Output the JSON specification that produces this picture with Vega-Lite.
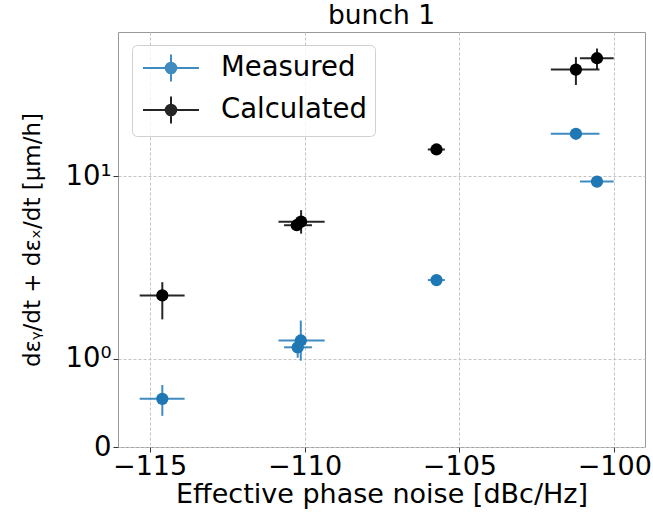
{
  "$schema": "https://vega.github.io/schema/vega-lite/v6.json",
  "width": 527,
  "height": 415,
  "autosize": {"type": "none"},
  "padding": {"left": 118, "top": 32, "right": 8, "bottom": 68},
  "title": {"text": "bunch 1", "fontSize": 26.5, "font": "DejaVu Sans", "fontWeight": "normal", "color": "black", "offset": 3},
  "config": {"view": {"stroke": "#999", "strokeWidth": 1}, "font": "DejaVu Sans"},
  "data": {"values": [
    {"series": "Measured", "x": -114.59, "xlo": -115.32, "xhi": -113.87, "y": 0.437, "ylo": 0.258, "yhi": 0.607},
    {"series": "Measured", "x": -110.12, "xlo": -110.84, "xhi": -109.35, "y": 1.346, "ylo": 0.97, "yhi": 1.8},
    {"series": "Measured", "x": -110.22, "xlo": -110.66, "xhi": -109.76, "y": 1.21, "ylo": 1.02, "yhi": 1.38},
    {"series": "Measured", "x": -105.74, "xlo": -106.02, "xhi": -105.47, "y": 3.06, "ylo": 2.95, "yhi": 3.17},
    {"series": "Measured", "x": -101.24, "xlo": -102.05, "xhi": -100.48, "y": 15.7, "ylo": 15.2, "yhi": 16.2},
    {"series": "Measured", "x": -100.56, "xlo": -101.11, "xhi": -100.02, "y": 9.43, "ylo": 9.1, "yhi": 9.8},
    {"series": "Calculated", "x": -114.59, "xlo": -115.32, "xhi": -113.87, "y": 2.52, "ylo": 1.83, "yhi": 2.98},
    {"series": "Calculated", "x": -110.11, "xlo": -110.84, "xhi": -109.35, "y": 6.07, "ylo": 5.3, "yhi": 6.9},
    {"series": "Calculated", "x": -110.25, "xlo": -110.66, "xhi": -109.76, "y": 5.83, "ylo": 5.5, "yhi": 6.2},
    {"series": "Calculated", "x": -105.74, "xlo": -106.02, "xhi": -105.47, "y": 13.3, "ylo": 12.9, "yhi": 13.8},
    {"series": "Calculated", "x": -101.24, "xlo": -102.05, "xhi": -100.48, "y": 30.6, "ylo": 26.1, "yhi": 34.8},
    {"series": "Calculated", "x": -100.56, "xlo": -101.11, "xhi": -100.02, "y": 34.4, "ylo": 30.8, "yhi": 38.0}
  ]},
  "layer": [
    {
      "mark": {"type": "rule", "strokeWidth": 2, "opacity": 0.85},
      "encoding": {
        "x": {"field": "xlo", "type": "quantitative", "scale": {"domain": [-116.02, -99.01], "nice": false, "zero": false}},
        "x2": {"field": "xhi"},
        "y": {"field": "y", "type": "quantitative", "scale": {"type": "symlog", "constant": 0.7, "domain": [0, 45], "nice": false}},
        "color": {"field": "series", "type": "nominal", "scale": {"domain": ["Measured", "Calculated"], "range": ["#1f77b4", "#000000"]}}
      }
    },
    {
      "mark": {"type": "rule", "strokeWidth": 2, "opacity": 0.85},
      "encoding": {
        "x": {"field": "x", "type": "quantitative", "scale": {"domain": [-116.02, -99.01], "nice": false, "zero": false}},
        "y": {"field": "ylo", "type": "quantitative", "scale": {"type": "symlog", "constant": 0.7, "domain": [0, 45], "nice": false}},
        "y2": {"field": "yhi"},
        "color": {"field": "series", "type": "nominal", "scale": {"domain": ["Measured", "Calculated"], "range": ["#1f77b4", "#000000"]}}
      }
    },
    {
      "mark": {"type": "circle", "size": 150, "opacity": 1},
      "encoding": {
        "x": {"field": "x", "type": "quantitative", "scale": {"domain": [-116.02, -99.01], "nice": false, "zero": false},
          "axis": {"values": [-115, -110, -105, -100], "labelExpr": "'−' + abs(datum.value)", "title": "Effective phase noise [dBc/Hz]",
            "labelFontSize": 27, "labelFont": "DejaVu Sans", "labelColor": "black", "labelPadding": 1, "labelFlush": false, "labelOverlap": false,
            "tickSize": 5, "tickColor": "#333", "tickWidth": 1, "domain": false,
            "grid": true, "gridDash": [3, 2], "gridColor": "#c4c4c4", "gridWidth": 1,
            "titleFontSize": 27, "titleFont": "DejaVu Sans", "titleFontWeight": "normal", "titleColor": "black", "titleY": 55, "titleBaseline": "alphabetic"}},
        "y": {"field": "y", "type": "quantitative", "scale": {"type": "symlog", "constant": 0.7, "domain": [0, 45], "nice": false},
          "axis": {"values": [0, 1, 10], "labelExpr": "datum.value == 0 ? '0' : (datum.value == 1 ? '10⁰' : '10¹')", "title": "dεᵧ/dt + dεₓ/dt [μm/h]",
            "labelFontSize": 27.5, "labelFont": "DejaVu Sans", "labelColor": "black", "labelPadding": 2, "labelFlush": false, "labelOverlap": false,
            "tickSize": 5, "tickColor": "#333", "tickWidth": 1, "domain": false,
            "grid": true, "gridDash": [3, 2], "gridColor": "#c4c4c4", "gridWidth": 1,
            "titleFontSize": 23, "titleFont": "DejaVu Sans", "titleFontWeight": "normal", "titleColor": "black",
            "titleX": -86, "titleY": 207.5, "titleAngle": -90, "titleAlign": "center", "titleBaseline": "middle"}},
        "color": {"field": "series", "type": "nominal", "scale": {"domain": ["Measured", "Calculated"], "range": ["#1f77b4", "#000000"]},
          "legend": {"title": null, "orient": "none", "legendX": 14, "legendY": 13,
            "padding": 8, "rowPadding": 6, "symbolSize": 784, "symbolStrokeWidth": 2, "symbolOffset": 16, "labelOffset": 35,
            "labelFontSize": 27.5, "labelFont": "DejaVu Sans", "labelColor": "black", "labelLimit": 400,
            "strokeColor": "#d0d0d0", "fillColor": "rgba(255,255,255,0.8)", "cornerRadius": 5,
            "symbolType": "M-2,0H2M0,-0.96V0.96M0.38,0A0.38,0.38,0,1,1,-0.38,0A0.38,0.38,0,1,1,0.38,0Z",
            "encode": {"symbols": {"update": {
              "shape": {"value": "M-2,0H2M0,-0.96V0.96M0.38,0A0.38,0.38,0,1,1,-0.38,0A0.38,0.38,0,1,1,0.38,0Z"},
              "stroke": {"scale": "color", "field": "value"},
              "fill": {"scale": "color", "field": "value"},
              "strokeWidth": {"value": 2},
              "opacity": {"value": 1}}}}}}
      }
    }
  ]
}
